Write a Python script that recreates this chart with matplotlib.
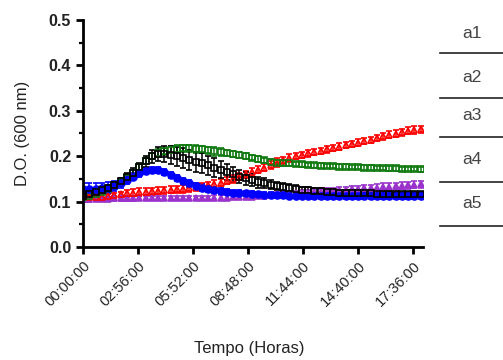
import numpy as np
import matplotlib
matplotlib.use("Agg")
import matplotlib.pyplot as plt
from matplotlib.lines import Line2D
from matplotlib.ticker import MultipleLocator

# time in minutes, one reading every 20 min
time_min = np.arange(0, 1081, 20)

red = [0.110, 0.110, 0.111, 0.111, 0.112, 0.114, 0.116,
       0.118, 0.120, 0.121, 0.122, 0.123, 0.124,
       0.125, 0.126, 0.127, 0.128, 0.130, 0.132,
       0.134, 0.136, 0.139, 0.142, 0.146, 0.150,
       0.155, 0.160, 0.165, 0.170, 0.175, 0.180,
       0.186, 0.191, 0.196, 0.200, 0.203, 0.206,
       0.209, 0.212, 0.215, 0.218, 0.221, 0.224,
       0.227, 0.230, 0.233, 0.236, 0.240, 0.244,
       0.247, 0.250, 0.253, 0.256, 0.258, 0.259]
red_err = [0.004, 0.004, 0.004, 0.005, 0.005, 0.006, 0.006,
           0.007, 0.008, 0.008, 0.008, 0.008, 0.008,
           0.008, 0.008, 0.008, 0.008, 0.008, 0.008,
           0.008, 0.008, 0.008, 0.008, 0.008, 0.008,
           0.008, 0.008, 0.008, 0.008, 0.008, 0.009,
           0.010, 0.008, 0.008, 0.007, 0.007, 0.007,
           0.007, 0.007, 0.007, 0.007, 0.007, 0.007,
           0.007, 0.007, 0.007, 0.007, 0.007, 0.008,
           0.008, 0.008, 0.008, 0.008, 0.008, 0.008]

green = [0.110, 0.112, 0.116, 0.121, 0.127, 0.134, 0.143,
         0.153, 0.164, 0.176, 0.189, 0.200, 0.207,
         0.211, 0.214, 0.216, 0.217, 0.217, 0.216,
         0.215, 0.213, 0.211, 0.209, 0.207, 0.205,
         0.203, 0.200, 0.197, 0.194, 0.191, 0.188,
         0.186, 0.185, 0.184, 0.183, 0.182, 0.181,
         0.180, 0.179, 0.178, 0.178, 0.177, 0.177,
         0.176, 0.176, 0.175, 0.175, 0.174, 0.174,
         0.173, 0.173, 0.172, 0.172, 0.172, 0.171]
green_err = [0.004, 0.004, 0.005, 0.005, 0.006, 0.006, 0.006,
             0.006, 0.006, 0.006, 0.007, 0.007, 0.008,
             0.008, 0.008, 0.008, 0.008, 0.008, 0.009,
             0.008, 0.008, 0.010, 0.008, 0.007, 0.007,
             0.007, 0.006, 0.006, 0.006, 0.006, 0.006,
             0.006, 0.006, 0.005, 0.005, 0.005, 0.005,
             0.005, 0.005, 0.005, 0.005, 0.005, 0.005,
             0.005, 0.005, 0.005, 0.005, 0.005, 0.005,
             0.005, 0.005, 0.005, 0.005, 0.005, 0.005]

blue = [0.127, 0.127, 0.128, 0.129, 0.131, 0.135, 0.141,
        0.148, 0.155, 0.162, 0.167, 0.170, 0.169,
        0.165, 0.159, 0.152, 0.145, 0.140, 0.135,
        0.131, 0.128, 0.126, 0.124, 0.122, 0.120,
        0.119, 0.118, 0.117, 0.116, 0.115, 0.115,
        0.114, 0.114, 0.113, 0.113, 0.113, 0.113,
        0.112, 0.112, 0.112, 0.112, 0.112, 0.112,
        0.112, 0.112, 0.112, 0.112, 0.112, 0.112,
        0.112, 0.112, 0.112, 0.112, 0.112, 0.112]
blue_err = [0.014, 0.014, 0.013, 0.013, 0.012, 0.011, 0.010,
            0.009, 0.008, 0.008, 0.007, 0.007, 0.007,
            0.007, 0.007, 0.007, 0.007, 0.007, 0.007,
            0.007, 0.007, 0.007, 0.007, 0.006, 0.006,
            0.006, 0.006, 0.006, 0.006, 0.006, 0.006,
            0.006, 0.006, 0.006, 0.006, 0.006, 0.006,
            0.006, 0.006, 0.006, 0.006, 0.006, 0.006,
            0.006, 0.006, 0.006, 0.006, 0.006, 0.006,
            0.006, 0.006, 0.006, 0.006, 0.006, 0.006]

purple = [0.105, 0.105, 0.106, 0.106, 0.106, 0.107, 0.107,
          0.107, 0.107, 0.108, 0.108, 0.108, 0.108,
          0.108, 0.108, 0.108, 0.108, 0.108, 0.108,
          0.108, 0.108, 0.109, 0.109, 0.109, 0.110,
          0.110, 0.111, 0.111, 0.112, 0.113, 0.114,
          0.115, 0.116, 0.117, 0.118, 0.119, 0.120,
          0.121, 0.122, 0.123, 0.124, 0.125, 0.126,
          0.127, 0.128, 0.129, 0.130, 0.131, 0.132,
          0.133, 0.134, 0.135, 0.136, 0.137, 0.138]
purple_err = [0.005, 0.005, 0.005, 0.005, 0.005, 0.005, 0.005,
              0.005, 0.005, 0.005, 0.005, 0.005, 0.005,
              0.005, 0.005, 0.005, 0.005, 0.005, 0.005,
              0.005, 0.005, 0.005, 0.005, 0.005, 0.005,
              0.005, 0.005, 0.005, 0.005, 0.005, 0.005,
              0.006, 0.006, 0.006, 0.006, 0.006, 0.006,
              0.006, 0.006, 0.006, 0.007, 0.007, 0.007,
              0.007, 0.007, 0.007, 0.007, 0.008, 0.008,
              0.008, 0.008, 0.008, 0.008, 0.008, 0.008]

black = [0.112, 0.116, 0.121, 0.126, 0.131, 0.137, 0.145,
         0.154, 0.164, 0.176, 0.189, 0.200, 0.205,
         0.205, 0.203, 0.200, 0.196, 0.192, 0.188,
         0.184, 0.180, 0.175, 0.170, 0.165, 0.160,
         0.155, 0.151, 0.147, 0.143, 0.140, 0.137,
         0.134, 0.132, 0.130, 0.128, 0.126, 0.125,
         0.124, 0.123, 0.122, 0.121, 0.120, 0.120,
         0.119, 0.119, 0.118, 0.118, 0.117, 0.117,
         0.117, 0.116, 0.116, 0.116, 0.116, 0.116]
black_err = [0.004, 0.004, 0.005, 0.005, 0.006, 0.006, 0.007,
             0.008, 0.009, 0.010, 0.012, 0.014, 0.016,
             0.018, 0.020, 0.021, 0.022, 0.022, 0.022,
             0.022, 0.021, 0.020, 0.019, 0.018, 0.017,
             0.015, 0.014, 0.013, 0.012, 0.011, 0.010,
             0.009, 0.009, 0.008, 0.008, 0.007, 0.007,
             0.007, 0.006, 0.006, 0.006, 0.006, 0.006,
             0.006, 0.006, 0.006, 0.006, 0.006, 0.006,
             0.006, 0.006, 0.006, 0.006, 0.006, 0.006]

tick_min = [0, 176, 352, 528, 704, 880, 1056]
tick_labels = ["00:00:00", "02:56:00", "05:52:00", "08:48:00",
               "11:44:00", "14:40:00", "17:36:00"]
legend_labels = ["a1", "a2", "a3", "a4", "a5"]

plt.rcParams['font.family'] = ['Liberation Sans', 'DejaVu Sans']

fig = plt.figure(figsize=(5.03, 3.60), dpi=100)
ax = fig.add_axes([83 / 503, 113 / 360, 340 / 503, 227 / 360])

series = [
    (purple, purple_err, '#9933cc', '^', 'full'),
    (red, red_err, '#ff0000', '^', 'none'),
    (green, green_err, '#117a11', 's', 'none'),
    (blue, blue_err, '#0000ff', 'o', 'full'),
    (black, black_err, '#000000', 's', 'none'),
]
for vals, err, col, mk, fs in series:
    ax.errorbar(time_min, vals, yerr=err, color=col, marker=mk,
                fillstyle=fs, markersize=5, markeredgewidth=1.2,
                linestyle='none', elinewidth=1.1, capsize=2, capthick=1.1)

ax.set_xlim(0, 1088)
ax.set_ylim(0, 0.5)
ax.set_xticks(tick_min)
ax.set_xticklabels(tick_labels, rotation=45, ha='right',
                   rotation_mode='anchor', fontsize=10.5, color='#222222')
ax.yaxis.set_major_locator(MultipleLocator(0.1))
ax.yaxis.set_minor_locator(MultipleLocator(0.05))
ax.set_yticks(ax.get_yticks())
ax.set_yticklabels(["%.1f" % v for v in ax.get_yticks()], fontsize=11.5,
                   fontweight='bold', color='#222222')
ax.set_ylim(0, 0.5)

for s in ['top', 'right']:
    ax.spines[s].set_visible(False)
for s in ['left', 'bottom']:
    ax.spines[s].set_linewidth(2)
ax.tick_params(axis='both', which='major', length=5, width=2, direction='out')
ax.tick_params(axis='y', which='minor', length=3, width=1.6, direction='out')

ax.set_ylabel("D.O. (600 nm)", fontsize=12, color='#222222')
ax.set_xlabel("Tempo (Horas)", fontsize=12, color='#222222')
ax.yaxis.set_label_coords(-0.155, 0.5)
ax.xaxis.set_label_coords(0.49, -0.415)

# table-like legend on the right
line_y = [53, 98, 137, 182, 226]
text_y = [33, 77, 116, 160, 203]
for lab, ty, ly in zip(legend_labels, text_y, line_y):
    fig.text(472 / 503, 1 - ty / 360, lab, ha='center', va='center',
             fontsize=12.5, color='#444444')
    fig.add_artist(Line2D([440 / 503, 1.0], [1 - ly / 360, 1 - ly / 360],
                          color='#222222', linewidth=1.2))

fig.savefig("out.png", dpi=100)
